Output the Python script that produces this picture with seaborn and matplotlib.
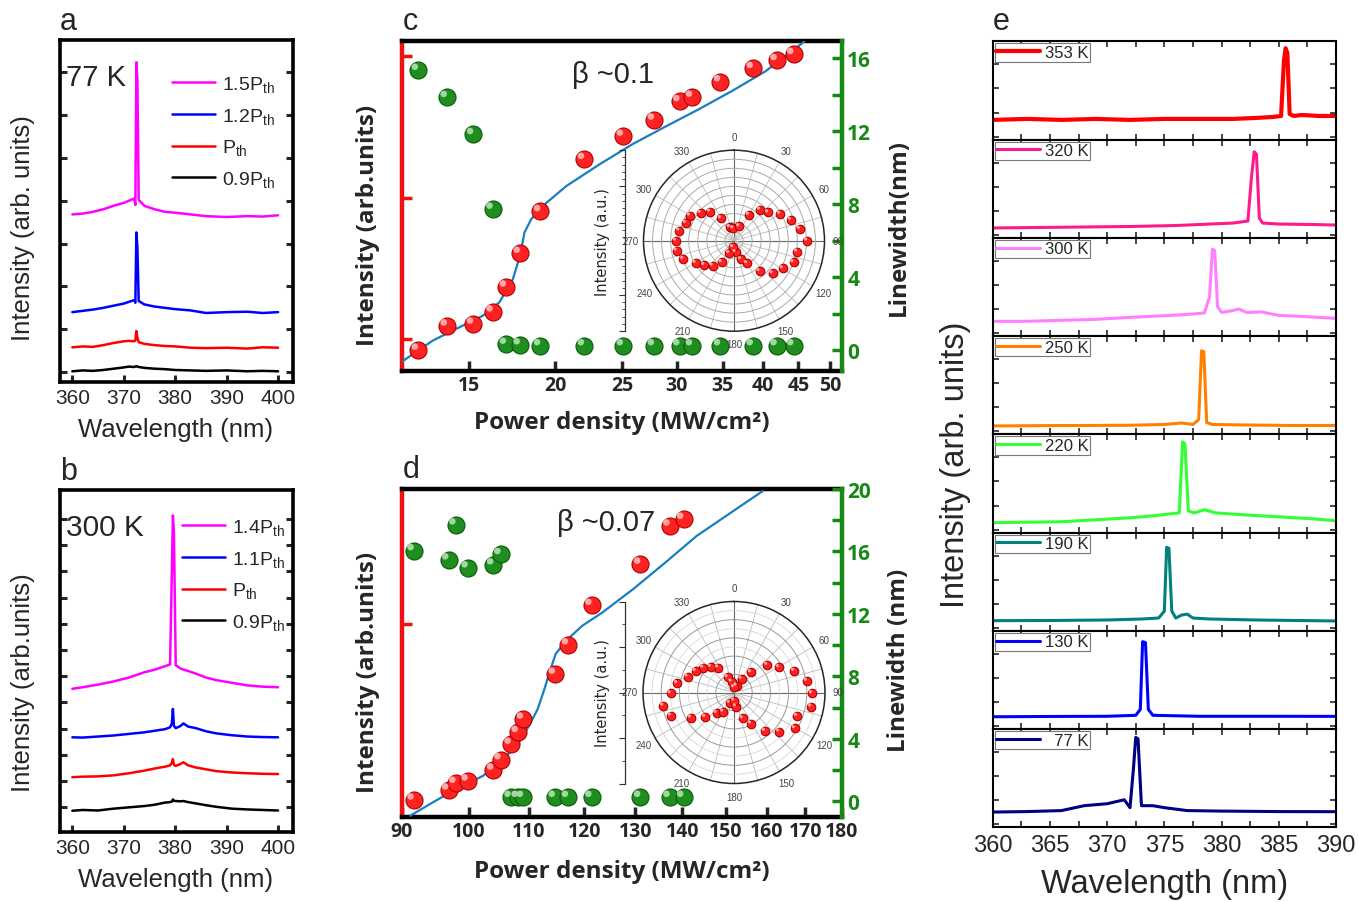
import numpy as np
import matplotlib
matplotlib.use('Agg')
import matplotlib.pyplot as plt
import matplotlib.transforms as mtransforms
from matplotlib.ticker import FixedLocator, NullLocator, MultipleLocator, NullFormatter
import seaborn as sns

W, H = 1358, 903

# ---------------- panel a : 77 K spectra ----------------
wl_a = [360, 362, 364, 366, 368, 370, 371, 372, 372.25, 372.45, 372.65, 372.9,
        374, 376, 378, 380, 383, 386, 390, 394, 397, 400]
a_09 = [0.02, 0.04, 0.03, 0.05, 0.08, 0.11, 0.13, 0.12, 0.13, 0.14, 0.13, 0.12,
        0.10, 0.08, 0.07, 0.05, 0.04, 0.03, 0.04, 0.02, 0.03, 0.02]
a_10 = [0.58, 0.60, 0.59, 0.63, 0.68, 0.72, 0.73, 0.72, 0.74, 0.96, 0.80, 0.70,
        0.66, 0.63, 0.61, 0.60, 0.57, 0.56, 0.57, 0.55, 0.58, 0.57]
a_12 = [1.40, 1.43, 1.46, 1.50, 1.55, 1.60, 1.64, 1.68, 1.62, 3.26, 2.90, 1.66,
        1.58, 1.53, 1.50, 1.47, 1.44, 1.38, 1.40, 1.41, 1.38, 1.40]
a_15 = [3.68, 3.70, 3.74, 3.80, 3.88, 3.95, 4.00, 4.05, 3.90, 7.23, 6.80, 4.02,
        3.88, 3.80, 3.74, 3.72, 3.68, 3.64, 3.62, 3.64, 3.63, 3.66]

# ---------------- panel b : 300 K spectra ----------------
wl_b = [360, 362, 365, 368, 371, 374, 376, 378, 379, 379.35, 379.55, 379.75, 380.1,
        381, 381.6, 382.5, 384, 386, 388, 391, 394, 397, 400]
b_09 = [-0.13, -0.10, -0.12, -0.05, 0.00, 0.05, 0.10, 0.18, 0.20, 0.22, 0.30, 0.25, 0.24,
        0.23, 0.24, 0.20, 0.15, 0.08, 0.02, -0.05, -0.08, -0.10, -0.12]
b_10 = [1.15, 1.17, 1.18, 1.22, 1.30, 1.40, 1.48, 1.55, 1.60, 1.70, 1.84, 1.62, 1.58,
        1.65, 1.72, 1.60, 1.52, 1.45, 1.38, 1.33, 1.30, 1.28, 1.27]
b_11 = [2.67, 2.66, 2.70, 2.74, 2.80, 2.86, 2.92, 2.98, 3.05, 3.20, 3.75, 3.10, 3.02,
        3.10, 3.20, 3.08, 3.02, 2.90, 2.82, 2.75, 2.70, 2.68, 2.67]
b_14 = [4.52, 4.58, 4.68, 4.80, 4.95, 5.15, 5.25, 5.38, 5.45, 9.00, 11.13, 10.50, 5.42,
        5.30, 5.25, 5.20, 5.10, 4.95, 4.85, 4.75, 4.65, 4.60, 4.58]

# ---------------- panel c : 77 K power dependence ----------------
c_pd = [12.68, 13.96, 15.24, 16.26, 17.0, 17.8, 19.05, 22.05, 25.1, 27.84, 30.3, 31.6,
        34.7, 38.7, 41.9, 44.3]
c_int = [0.836, 1.24, 1.28, 1.56, 2.34, 4.05, 7.99, 18.7, 27.3, 35.5, 47.9, 51.5,
         66.2, 82.3, 93.7, 103.3]
c_lw = [15.34, 13.85, 11.82, 7.73, 0.33, 0.30, 0.25, 0.25, 0.25, 0.25, 0.25, 0.25,
        0.25, 0.25, 0.25, 0.25]
c_fit_pd = [12.03, 13.3, 14.54, 15.72, 16.62, 17.38, 17.8, 18.07, 18.48, 19.21, 20.78,
            23.2, 25.9, 28.9, 32.3, 36.1, 40.4, 45.9]
c_fit_int = [0.696, 0.973, 1.21, 1.46, 1.82, 2.65, 3.88, 5.68, 7.05, 8.75, 12.1,
             17.2, 23.9, 31.8, 42.2, 56.9, 78.7, 127.0]
c_ang = [30.3, 40, 50.5, 59.9, 70, 80, 90, 99.8, 110, 119.5, 130.2, 140.1, 149.9, 159, 171.9,
         329.8, 320.4, 309.7, 299.6, 290.2, 280.4, 270, 260.1, 250.1, 239.8, 230.6, 220.5,
         209.7, 200.7, 343.3, 356.9, 20.4, 185.7]
c_rad = [0.33, 0.447, 0.49, 0.59, 0.67, 0.74, 0.81, 0.71, 0.70, 0.62, 0.56, 0.44, 0.29, 0.22, 0.13,
         0.285, 0.416, 0.479, 0.56, 0.565, 0.614, 0.64, 0.643, 0.595, 0.49, 0.424, 0.363,
         0.275, 0.146, 0.154, 0.136, 0.169, 0.074]

# ---------------- panel d : 300 K power dependence ----------------
d_pd = [91.75, 96.9, 98.0, 99.9, 104.0, 105.2, 106.9, 108.1, 109.0, 114.6, 117.0, 121.4,
        131.1, 137.3, 140.3]
d_int = [1.98, 2.17, 2.31, 2.36, 2.61, 2.87, 3.31, 3.69, 4.17, 6.31, 8.27, 11.9,
         17.4, 24.7, 26.3]
d_lw_pd = [91.75, 98.0, 96.9, 99.9, 104.0, 105.2, 106.9, 108.1, 109.0, 114.6, 117.0,
           121.4, 131.1, 137.3, 140.3]
d_lw = [16.06, 17.71, 15.47, 14.96, 15.15, 15.81, 0.26, 0.26, 0.26, 0.26, 0.26, 0.26,
        0.26, 0.26, 0.26]
d_fit_pd = [91.2, 94.6, 98.1, 102.3, 105.0, 107.9, 110.0, 111.5, 112.7, 113.6, 114.7,
            116.6, 119.6, 123.4, 129.6, 136.3, 143.2, 151.3, 159.0]
d_fit_int = [1.71, 1.94, 2.19, 2.47, 2.80, 3.26, 3.92, 4.57, 5.5, 6.41, 7.59, 8.58,
             9.84, 11.1, 13.8, 17.6, 22.5, 28.0, 34.1]
d_ang = [40.1, 50.5, 60.8, 70.4, 81, 90.6, 100.4, 110.5, 120.4, 130.8, 141.2, 151.4, 161.5,
         327.8, 317.9, 309, 299.3, 288.9, 279.2, 269.2, 259.4, 249.8, 239.7, 229.5, 220.2, 209.1,
         337.3, 347.8, 21.3, 29.6, 0, 200.9, 172, 177.7]
d_rad = [0.29, 0.475, 0.567, 0.704, 0.812, 0.857, 0.864, 0.739, 0.777, 0.658, 0.543, 0.39, 0.30,
         0.323, 0.377, 0.434, 0.483, 0.538, 0.631, 0.696, 0.79, 0.738, 0.548, 0.414, 0.295, 0.241,
         0.18, 0.122, 0.081, 0.171, 0.057, 0.123, 0.157, 0.09]

# ---------------- panel e : temperature series ----------------
e_labels = ['353 K', '320 K', '300 K', '250 K', '220 K', '190 K', '130 K', '  77 K']
e_colors = ['#FF0000', '#FF1A8C', '#FF80FF', '#FF8000', '#33FF33', '#008080', '#0000FF', '#000080']
e_wl = [
    [360, 363, 366, 369, 372, 375, 378, 381, 383, 384.5, 385.2, 385.45, 385.6, 385.75, 385.95, 386.3, 387, 388.5, 390],
    [360, 364, 368, 372, 376, 379, 381, 382.3, 382.6, 382.85, 383.05, 383.3, 383.6, 385, 388, 390],
    [360, 363, 366, 369, 372, 375, 377, 378.5, 378.95, 379.2, 379.4, 379.65, 380, 381, 381.5, 382.2, 383.5, 385, 387, 390],
    [360, 364, 368, 372, 375, 376.5, 377.5, 378.0, 378.25, 378.45, 378.7, 379.2, 382, 386, 390],
    [360, 363, 366, 369, 372, 374, 375.5, 376.3, 376.6, 376.8, 377.1, 377.6, 378.5, 379.5, 382, 385, 388, 390],
    [360, 365, 370, 373, 374.5, 375.0, 375.2, 375.4, 375.65, 376, 376.5, 377, 377.5, 379, 383, 390],
    [360, 365, 370, 372.5, 372.9, 373.1, 373.35, 373.6, 374, 378, 384, 390],
    [360, 363, 366, 368, 370, 371.5, 372.0, 372.3, 372.5, 372.7, 373.0, 374, 375, 377, 380, 385, 390],
]
e_int = [
    [0.20, 0.21, 0.20, 0.21, 0.20, 0.21, 0.21, 0.21, 0.22, 0.23, 0.24, 0.80, 0.93, 0.88, 0.26, 0.24, 0.25, 0.24, 0.24],
    [0.10, 0.105, 0.11, 0.115, 0.125, 0.14, 0.15, 0.17, 0.60, 0.876, 0.85, 0.20, 0.15, 0.14, 0.135, 0.13],
    [0.15, 0.15, 0.16, 0.17, 0.19, 0.207, 0.22, 0.235, 0.40, 0.885, 0.87, 0.30, 0.24, 0.26, 0.275, 0.24, 0.245, 0.21, 0.20, 0.18],
    [0.085, 0.088, 0.09, 0.092, 0.10, 0.115, 0.10, 0.15, 0.85, 0.84, 0.12, 0.10, 0.095, 0.09, 0.09],
    [0.10, 0.105, 0.11, 0.13, 0.15, 0.17, 0.19, 0.20, 0.924, 0.90, 0.22, 0.20, 0.232, 0.20, 0.18, 0.16, 0.14, 0.12],
    [0.103, 0.105, 0.11, 0.12, 0.13, 0.20, 0.85, 0.84, 0.20, 0.13, 0.16, 0.17, 0.13, 0.12, 0.11, 0.10],
    [0.125, 0.128, 0.13, 0.14, 0.20, 0.889, 0.88, 0.20, 0.14, 0.13, 0.13, 0.129],
    [0.155, 0.16, 0.17, 0.22, 0.24, 0.28, 0.20, 0.60, 0.915, 0.90, 0.22, 0.22, 0.20, 0.17, 0.165, 0.16, 0.159],
]

RED = '#EE1111'
GREEN = '#168816'
BOLD = 'Open Sans'

sns.set_style('ticks')
plt.rcParams['font.family'] = ['Liberation Sans', 'DejaVu Sans']
plt.rcParams['mathtext.fontset'] = 'custom'
plt.rcParams['mathtext.rm'] = 'Liberation Sans'
plt.rcParams['mathtext.it'] = 'Liberation Sans'
plt.rcParams['mathtext.default'] = 'regular'

fig = plt.figure(figsize=(W / 100, H / 100), dpi=100)


def box(x0, y0, x1, y1):
    return [x0 / W, 1 - y1 / H, (x1 - x0) / W, (y1 - y0) / H]


def ftext(x, y, s, **kw):
    kw.setdefault('va', 'center')
    fig.text(x / W, 1 - y / H, s, **kw)


def spheres(ax, x, y, face, edge, shine, s):
    sns.scatterplot(x=x, y=y, ax=ax, s=s, color=face, edgecolor=edge, linewidth=0.8,
                    zorder=5, legend=False)
    d = np.sqrt(s) * 0.2
    off = mtransforms.offset_copy(ax.transData, fig=fig, x=-d, y=d, units='points')
    ax.scatter(x, y, s=s * 0.15, color=shine, edgecolors='none', transform=off,
               zorder=6, alpha=0.9)


# ---------- a, b ----------
def spectra_panel(rect, wl, series, ylim, nticks, leg_xy):
    ax = fig.add_axes(rect)
    for lab, vals, col in series:
        sns.lineplot(x=wl, y=vals, color=col, lw=1.8, ax=ax, label=lab,
                     sort=False, estimator=None)
    ax.set_xticks([360, 370, 380, 390, 400])
    ax.set_yticks(range(nticks))
    ax.set_xlim(357.6, 402.9)
    ax.set_ylim(*ylim)
    ax.yaxis.set_major_formatter(NullFormatter())
    ax.tick_params(axis='both', direction='in', length=5, width=2.2, labelsize=15,
                   right=True, top=False, pad=4)
    for s in ax.spines.values():
        s.set_linewidth(2.6)
        s.set_color('black')
    h, l = ax.get_legend_handles_labels()
    ax.legend(h[::-1], l[::-1], loc='upper left', bbox_to_anchor=(leg_xy[0] / W, 1 - leg_xy[1] / H),
              bbox_transform=fig.transFigure, frameon=False, fontsize=14, borderpad=0,
              borderaxespad=0, handlelength=2.2, handletextpad=0.35, labelspacing=0.6)
    ax.set_xlabel('')
    ax.set_ylabel('')
    return ax


spectra_panel(box(60, 41, 293, 383), wl_a,
              [('0.9P$_{th}$', a_09, 'black'), ('P$_{th}$', a_10, '#FF0000'),
               ('1.2P$_{th}$', a_12, '#0000FF'), ('1.5P$_{th}$', a_15, '#FF00FF')],
              (-0.23, 7.75), 8, (172, 75))
spectra_panel(box(60, 491, 293, 833), wl_b,
              [('0.9P$_{th}$', b_09, 'black'), ('P$_{th}$', b_10, '#FF0000'),
               ('1.1P$_{th}$', b_11, '#0000FF'), ('1.4P$_{th}$', b_14, '#FF00FF')],
              (-0.94, 12.1), 12, (182, 518))

ftext(60, 22, 'a', fontsize=22)
ftext(60, 472, 'b', fontsize=22)
ftext(66, 78, '77 K', fontsize=21)
ftext(66, 528, '300 K', fontsize=21.5)
ftext(23, 228, 'Intensity (arb. units)', fontsize=18.5, rotation=90, ha='center')
ftext(23, 683, 'Intensity (arb.units)', fontsize=18.5, rotation=90, ha='center')
ftext(176, 430, 'Wavelength (nm)', fontsize=18.5, ha='center')
ftext(176, 880, 'Wavelength (nm)', fontsize=18.5, ha='center')


# ---------- c, d ----------
def power_panel(rect, xlim, xticks, ylim_i, ylim_w, wticks, wminor,
                pd_i, inten, pd_w, lw, fit_x, fit_y):
    ax = fig.add_axes(rect)
    ax.set_xscale('log')
    ax.set_yscale('log')
    ax2 = ax.twinx()
    sns.lineplot(x=fit_x, y=fit_y, ax=ax, color='#1A7DC0', lw=1.6, sort=False,
                 estimator=None, zorder=3)
    spheres(ax, pd_i, inten, '#FF2222', '#B00000', '#FFB8B8', 150)
    spheres(ax2, pd_w, lw, '#1E8E1E', '#0B5A0B', '#B0E0B0', 150)
    ax.set_xticks(xticks, labels=[str(t) for t in xticks])
    ax.xaxis.set_minor_locator(NullLocator())
    for t in ax.get_xticklabels():
        t.set_fontfamily(BOLD)
        t.set_fontweight('bold')
        t.set_fontsize(14)
    ax.set_yticks([1, 10, 100])
    ax.yaxis.set_minor_locator(NullLocator())
    ax.yaxis.set_major_formatter(NullFormatter())
    ax2.set_yticks(wticks, labels=[str(t) for t in wticks])
    ax2.yaxis.set_minor_locator(FixedLocator(wminor))
    ax.set_xlim(*xlim)
    ax.set_ylim(*ylim_i)
    ax2.set_ylim(*ylim_w)
    ax.tick_params(axis='x', direction='in', length=7, width=2.5, top=False, pad=3)
    ax.tick_params(axis='y', direction='in', length=7, width=2.5, color=RED, right=False)
    for t in ax2.get_yticklabels():
        t.set_fontfamily(BOLD)
        t.set_fontweight('bold')
        t.set_fontsize(15)
        t.set_color(GREEN)
    ax2.tick_params(axis='y', which='both', direction='in', length=7, width=2.5,
                    color=GREEN, pad=4)
    ax.set_xlabel('')
    ax.set_ylabel('')
    ax2.set_ylabel('')
    for s in ['top', 'bottom']:
        ax.spines[s].set_linewidth(3.2)
        ax.spines[s].set_color('black')
    ax.spines['left'].set_linewidth(3.2)
    ax.spines['left'].set_color(RED)
    ax.spines['right'].set_visible(False)
    for s in ['left', 'top', 'bottom']:
        ax2.spines[s].set_visible(False)
    ax2.spines['right'].set_linewidth(3.2)
    ax2.spines['right'].set_color(GREEN)
    return ax


def polar_inset(cx, cy, r, ang, rad, dense):
    pax = fig.add_axes(box(cx - r, cy - r, cx + r, cy + r), projection='polar')
    pax.set_theta_zero_location('N')
    pax.set_theta_direction(-1)
    angs = list(range(0, 360, 15))
    pax.set_thetagrids(angs, labels=[str(a) if a % 30 == 0 else '' for a in angs])
    pax.tick_params(axis='x', labelsize=7, colors='#444444', pad=-1)
    pax.set_yticks(np.arange(0.1, 1.0, 0.1))
    pax.yaxis.set_major_formatter(NullFormatter())
    pax.set_ylim(0, 1)
    pax.grid(True)
    for i, g in enumerate(pax.xaxis.get_gridlines()):
        if angs[i] % 90 == 0:
            g.set_color('#666666'); g.set_linewidth(0.8)
        else:
            g.set_color('#BBBBBB'); g.set_linewidth(0.6)
    for i, g in enumerate(pax.yaxis.get_gridlines()):
        if dense or i % 2 == 1:
            g.set_color('#999999' if not dense else '#AAAAAA'); g.set_linewidth(0.7)
        else:
            g.set_color('#D0D0D0'); g.set_linewidth(0.5)
    pax.spines['polar'].set_linewidth(1.1)
    th = list(np.deg2rad(ang))
    spheres(pax, th, rad, '#FF2020', '#B00000', '#FFB0B0', 38)
    pax.set_xlabel('')
    pax.set_ylabel('')
    pax.set_ylim(0, 1)

    rax = fig.add_axes(box(625, cy - r, 640, cy + r))
    rax.patch.set_visible(False)
    rax.set_ylim(0, 1)
    rax.set_xticks([])
    for s in ['top', 'right', 'bottom']:
        rax.spines[s].set_visible(False)
    rax.spines['left'].set_linewidth(0.9)
    rax.spines['left'].set_color('#333333')
    rax.yaxis.set_major_locator(MultipleLocator(0.2 if dense else 0.25))
    rax.yaxis.set_minor_locator(MultipleLocator(0.04 if dense else 0.125))
    rax.yaxis.set_major_formatter(NullFormatter())
    rax.tick_params(axis='y', which='major', direction='out', length=4, width=0.8, color='#333333')
    rax.tick_params(axis='y', which='minor', direction='out', length=2.5, width=0.6, color='#333333')
    ftext(603, cy, 'Intensity (a.u.)', fontsize=10.5, rotation=90, ha='center',
          family=['DejaVu Sans'])


power_panel(box(401.7, 42.3, 841.7, 371.7), (12, 52), [15, 20, 25, 30, 35, 40, 45, 50],
            (0.597, 127.6), (-1.13, 16.92), [0, 4, 8, 12, 16], [2, 6, 10, 14],
            c_pd, c_int, c_pd, c_lw, c_fit_pd, c_fit_int)
power_panel(box(401.7, 490, 841.7, 818.3), (90, 180), list(range(90, 190, 10)),
            (1.686, 34.7), (-1.03, 20.0), [0, 4, 8, 12, 16, 20], [2, 6, 10, 14, 18],
            d_pd, d_int, d_lw_pd, d_lw, d_fit_pd, d_fit_int)
polar_inset(734, 241.7, 90.5, c_ang, c_rad, True)
polar_inset(734, 693.5, 91, d_ang, d_rad, False)

ftext(403, 22, 'c', fontsize=22)
ftext(403, 470, 'd', fontsize=22)
ftext(572, 75, 'β ~0.1', fontsize=21)
ftext(557, 523, 'β ~0.07', fontsize=21)
for yc, yd in [(225, 423), (672, 872)]:
    ftext(368, yc, 'Intensity (arb.units)', fontsize=17.5, rotation=90, ha='center',
          family=BOLD, weight='bold')
    ftext(622, yd, 'Power density (MW/cm²)', fontsize=17.5, ha='center',
          family=BOLD, weight='bold')
ftext(899, 227, 'Linewidth(nm)', fontsize=17.5, rotation=90, ha='center', family=BOLD, weight='bold')
ftext(899, 660, 'Linewidth (nm)', fontsize=17.5, rotation=90, ha='center', family=BOLD, weight='bold')

# ---------- e ----------
top, step = 42.3, 98.25
for i in range(8):
    ax = fig.add_axes(box(992.7, top + i * step, 1336, top + (i + 1) * step))
    sns.lineplot(x=e_wl[i], y=e_int[i], color=e_colors[i], lw=3 if i == 0 else 2.2, ax=ax,
                 label=e_labels[i], sort=False, estimator=None)
    ax.set_xticks(range(360, 395, 5))
    ax.xaxis.set_minor_locator(MultipleLocator(2.5))
    ax.yaxis.set_major_locator(FixedLocator([0.03, 0.275, 0.52, 0.765]))
    ax.yaxis.set_major_formatter(NullFormatter())
    ax.set_xlim(360, 390)
    ax.set_ylim(0, 1)
    ax.tick_params(axis='both', which='both', direction='in', length=4, width=1.2,
                   top=True, right=True, labelsize=17, labelbottom=(i == 7), pad=5)
    for s in ax.spines.values():
        s.set_linewidth(1.5)
        s.set_color('black')
    ax.set_xlabel('')
    ax.set_ylabel('')
    leg = ax.legend(loc='upper left', fontsize=12, frameon=True, fancybox=False,
                    edgecolor='#777777', framealpha=1, borderpad=0.1, borderaxespad=0.12,
                    handlelength=2.6, handletextpad=0.3)
    leg.get_frame().set_linewidth(0.8)

ftext(993, 22, 'e', fontsize=22)
ftext(955, 465, 'Intensity (arb. units)', fontsize=23.5, rotation=90, ha='center')
ftext(1165, 885, 'Wavelength (nm)', fontsize=23.5, ha='center')

fig.savefig('out.png', dpi=100)
